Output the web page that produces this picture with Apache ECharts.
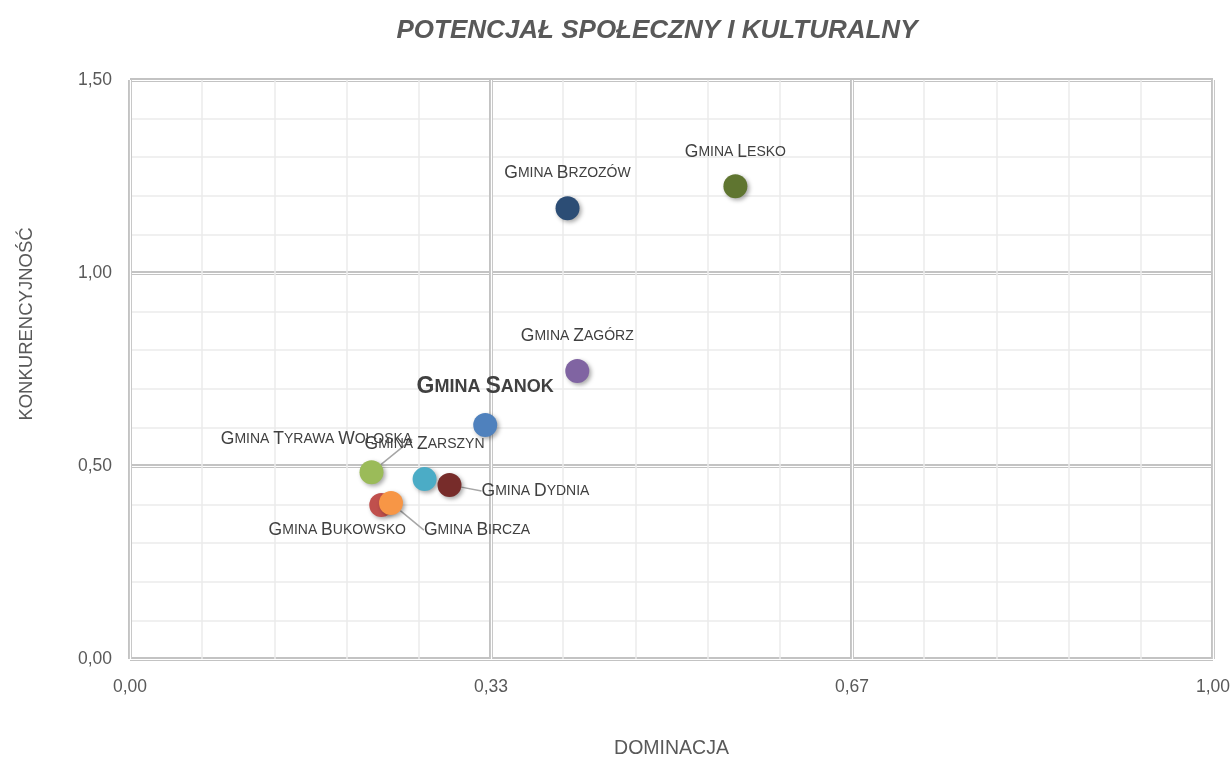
<!DOCTYPE html>
<html>
<head>
<meta charset="utf-8">
<script src="https://cdn.jsdelivr.net/npm/echarts@6/dist/echarts.min.js"></script>
<style>
  html, body { margin: 0; padding: 0; background: #fff; }
  #chart { width: 1232px; height: 758px; }
</style>
</head>
<body>
<div id="chart"></div>
<script>
// gminy + wartości
const gminy = ['Gmina Brzozów', 'Gmina Lesko', 'Gmina Zagórz', 'Gmina Sanok', 'Gmina Tyrawa Wołoska',
  'Gmina Zarszyn', 'Gmina Dydnia', 'Gmina Bukowsko', 'Gmina Bircza']
const dominacja = [0.404, 0.559, 0.413, 0.328, 0.223, 0.272, 0.295, 0.232, 0.241]
const konkurencyjnosc = [1.168, 1.225, 0.746, 0.606, 0.484, 0.466, 0.451, 0.399, 0.404]

const xTicks = ['0,00', '0,33', '0,67', '1,00']
const yTicks = ['0,00', '0,50', '1,00', '1,50']

const kolory = ['#2c4d75', '#5f7530', '#8064a2', '#4f81bd', '#9bbb59', '#4bacc6', '#772c2a', '#c0504d', '#f79646']
// przesunięcia etykiet (px) i czy rysować linię odniesienia
const etykiety = [
  [0, -35, false], [0, -34, false], [0, -35, false], [0, -38, false], [-55, -33, true],
  [0, -35, false], [86, 6, true], [-44, 25, false], [86, 27, true]
]

const FONT = '"Liberation Sans", Arial, sans-serif'
const GREY = '#595959'

// kapitaliki przez rich text
function smallCaps (txt, big, small) {
  let out = ''
  let cur = null
  let buf = ''
  for (const ch of txt) {
    const st = (ch !== ch.toLowerCase()) ? big : small
    if (st !== cur) {
      if (buf) out += '{' + cur + '|' + buf + '}'
      buf = ''
      cur = st
    }
    buf += ch.toUpperCase()
  }
  if (buf) out += '{' + cur + '|' + buf + '}'
  return out
}

const rich = {
  b: { fontFamily: FONT, fontSize: 17.5, color: '#404040' },
  s: { fontFamily: FONT, fontSize: 14, color: '#404040' },
  B: { fontFamily: FONT, fontSize: 23, fontWeight: 'bold', color: '#404040' },
  S: { fontFamily: FONT, fontSize: 18, fontWeight: 'bold', color: '#404040' }
}

const data = gminy.map((g, i) => ({
  name: g,
  value: [dominacja[i], konkurencyjnosc[i]],
  itemStyle: { color: kolory[i] },
  label: {
    formatter: i === 3 ? smallCaps(g, 'B', 'S') : smallCaps(g, 'b', 's')
  },
  labelLine: { show: etykiety[i][2] }
}))

const fmt = v => v.toFixed(2).replace('.', ',')

const axisCommon = {
  axisLine: { show: false },
  axisTick: { show: false }
}

const option = {
  animation: false,
  title: {
    text: 'POTENCJAŁ SPOŁECZNY I KULTURALNY',
    left: 652,
    textAlign: 'center',
    top: 13,
    textStyle: { fontFamily: FONT, fontSize: 26, fontWeight: 'bold', fontStyle: 'italic', color: GREY }
  },
  graphic: [{
    type: 'text',
    x: 27,
    y: 324,
    rotation: Math.PI / 2,
    style: {
      text: 'KONKURENCYJNOŚĆ',
      fontFamily: FONT,
      fontSize: 18.5,
      fill: GREY,
      textAlign: 'center',
      textVerticalAlign: 'middle'
    }
  }],
  grid: { left: 130, right: 19, top: 80, bottom: 99, outerBoundsMode: 'none', containLabel: false },
  xAxis: [
    Object.assign({}, axisCommon, {
      type: 'value', min: 0, max: 1, interval: 1 / 3,
      name: 'DOMINACJA', nameLocation: 'middle', nameGap: 80,
      nameTextStyle: { fontFamily: FONT, fontSize: 19.5, color: GREY },
      axisLabel: { formatter: fmt, fontFamily: FONT, fontSize: 17.5, color: GREY, margin: 19 },
      splitLine: { lineStyle: { color: '#c3c3c3', width: 4 } },
      minorTick: { show: false, splitNumber: 5 },
      minorSplitLine: { show: true, lineStyle: { color: '#ebebeb', width: 1.5 } }
    }),
    Object.assign({}, axisCommon, {
      type: 'value', min: 0, max: 1, interval: 1 / 3,
      axisLabel: { show: false },
      splitLine: { lineStyle: { color: '#ffffff', width: 1.2 } }
    })
  ],
  yAxis: [
    Object.assign({}, axisCommon, {
      type: 'value', min: 0, max: 1.5, interval: 0.5,
      axisLabel: { formatter: fmt, fontFamily: FONT, fontSize: 17.5, color: GREY, margin: 18 },
      splitLine: { lineStyle: { color: '#c3c3c3', width: 4 } },
      minorTick: { show: false, splitNumber: 5 },
      minorSplitLine: { show: true, lineStyle: { color: '#ebebeb', width: 1.5 } }
    }),
    Object.assign({}, axisCommon, {
      type: 'value', min: 0, max: 1.5, interval: 0.5,
      axisLabel: { show: false },
      splitLine: { lineStyle: { color: '#ffffff', width: 1.2 } }
    })
  ],
  series: [{
    type: 'scatter',
    symbolSize: 24,
    data: data,
    itemStyle: {
      shadowBlur: 4,
      shadowColor: 'rgba(0,0,0,0.35)',
      shadowOffsetX: 2,
      shadowOffsetY: 2,
      opacity: 1
    },
    label: {
      show: true,
      position: 'inside',
      rich: rich
    },
    labelLine: {
      show: false,
      length2: 0,
      lineStyle: { color: '#a6a6a6', width: 1.5 }
    },
    labelLayout: (params) => ({
      dx: etykiety[params.dataIndex][0],
      dy: etykiety[params.dataIndex][1]
    })
  }]
}

const chart = echarts.init(document.getElementById('chart'))
chart.setOption(option)
</script>
</body>
</html>
